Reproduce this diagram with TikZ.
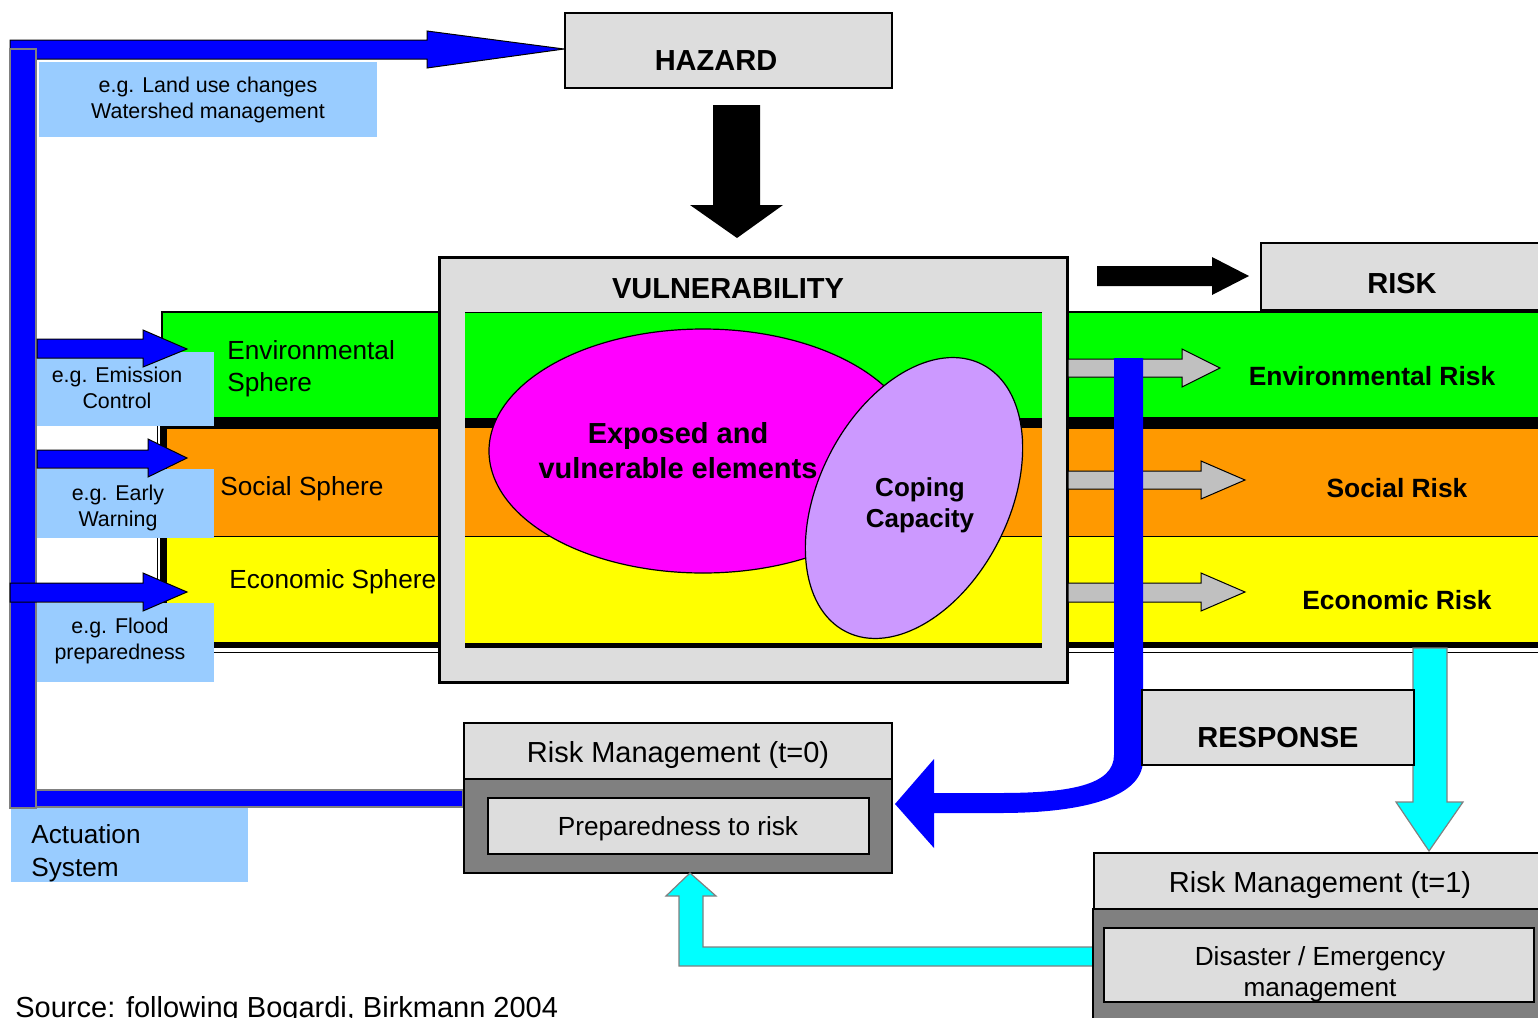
\documentclass[tikz,border=0pt]{standalone}
\usepackage{fontspec}
\setmainfont{Liberation Sans}
\usepackage{tikz}
\definecolor{boxgray}{HTML}{DDDDDD}
\definecolor{mgmtgray}{HTML}{808080}
\definecolor{envgreen}{HTML}{00FF00}
\definecolor{socorange}{HTML}{FF9900}
\definecolor{ecoyellow}{HTML}{FFFF00}
\definecolor{expmagenta}{HTML}{FF00FF}
\definecolor{copelilac}{HTML}{CC99FF}
\definecolor{notebox}{HTML}{99CCFF}
\definecolor{actblue}{HTML}{0000FF}
\definecolor{respcyan}{HTML}{00FFFF}
\definecolor{arrowgray}{HTML}{C0C0C0}
\newcommand{\notefont}{\fontsize{10.7pt}{13pt}\selectfont}
\newcommand{\spherefont}{\fontsize{13.1pt}{16pt}\selectfont}
\newcommand{\titlefont}{\fontsize{14.5pt}{17.5pt}\selectfont}
\newcommand{\riskfont}{\fontsize{13.2pt}{16pt}\selectfont}

\begin{document}
\begin{tikzpicture}[x=0.5pt, y=-0.5pt,
		txt/.style={inner sep=0pt, align=center, anchor=base},
		note/.style={txt, font=\notefont},
		sphere/.style={txt, align=left, anchor=base west, font=\spherefont},
		title/.style={txt, font=\titlefont\bfseries},
		riskname/.style={txt, font=\riskfont\bfseries},
		panel/.style={fill=boxgray, draw=black, line width=1pt},
		blueblock/.style={fill=actblue, draw=black, line width=0.5pt},
		grayblock/.style={fill=arrowgray, draw=black, line width=0.5pt},
		cyanblock/.style={fill=respcyan, draw=gray, line width=0.6pt}]
			\useasboundingbox (0,0) rectangle (1538,1018);
			
			% Sphere bands
			\draw[line width=0.5pt] (157,425) -- (157,652) -- (1545,652);
			\fill[black] (160,418) rectangle (1545,648);
			\draw[fill=envgreen, line width=0.6pt] (162,312) rectangle (1545,418);
			\fill[socorange] (167,429) rectangle (1545,536);
			\fill[ecoyellow] (167,537) rectangle (1545,642);
			\draw[line width=0.6pt] (167,536.5) -- (1545,536.5);
			
			% Vulnerability box
			\draw[panel, line width=1.5pt] (439,257) rectangle (1067,682);
			\fill[envgreen] (465,312) rectangle (1042,418);
			\draw[line width=0.5pt] (465,312) -- (1042,312);
			\fill[black] (465,418) rectangle (1042,428);
			\fill[socorange] (465,428) rectangle (1042,536);
			\fill[ecoyellow] (465,537) rectangle (1042,643);
			\draw[line width=0.6pt] (465,536.5) -- (1042,536.5);
			\fill[black] (465,643) rectangle (1042,648);
			\node[title] (vulntitle) at (728,298) {VULNERABILITY};
			
			% Exposed elements and coping capacity
			\draw[fill=expmagenta, line width=0.6pt] (703,451) ellipse (107pt and 61pt);
			\draw[fill=copelilac, line width=0.6pt, rotate around={63:(914,498)}] (914,498) ellipse (75pt and 47.5pt);
			\node[txt, font=\titlefont\bfseries] (exposed) at (678,478) {Exposed and\\vulnerable elements};
			\node[txt, font={\fontsize{13pt}{15.5pt}\selectfont\bfseries}] (coping) at (920,527) {Coping\\Capacity};
			
			% Sphere labels
			\node[sphere] (envsphere) at (227,391) {Environmental\\Sphere};
			\node[sphere] (socsphere) at (220,495) {Social Sphere};
			\node[sphere] (ecosphere) at (229,588) {Economic Sphere};
			
			% Example boxes
			\fill[notebox] (39,62) rectangle (377,137);
			\fill[notebox] (37,352) rectangle (214,426);
			\fill[notebox] (37,469) rectangle (214,538);
			\fill[notebox] (37,603) rectangle (214,682);
			\fill[notebox] (11,808) rectangle (248,882);
			\node[note] (landuse) at (208,118) {e.g. Land use changes\\Watershed management};
			\node[note] (emission) at (117,408) {e.g. Emission\\Control};
			\node[note] (warning) at (118,526) {e.g. Early\\Warning};
			\node[note] (flood) at (120,659) {e.g. Flood\\preparedness};
			\node[txt, align=left, anchor=base west, font={\fontsize{13.1pt}{16.5pt}\selectfont}] (actuation) at (31,876) {Actuation\\System};
			
			% Actuation system (blue)
			\draw[blueblock] (10,40) -- (427,40) -- (427,31) -- (564,49) -- (427,68) -- (427,59) -- (10,59) -- cycle;
			\draw[fill=actblue, draw=gray, line width=0.6pt] (36,790) rectangle (463,807);
			\draw[fill=actblue, draw=gray, line width=0.6pt] (10,49) rectangle (36,808);
			\draw[blueblock] (37,339) -- (143,339) -- (143,330) -- (187,349) -- (143,367) -- (143,358) -- (37,358) -- cycle;
			\draw[blueblock] (37,450) -- (148,450) -- (148,439) -- (187,458) -- (148,477) -- (148,468) -- (37,468) -- cycle;
			\draw[blueblock] (10,583) -- (143,583) -- (143,573) -- (187,592) -- (143,611) -- (143,602) -- (10,602) -- cycle;
			
			% Hazard
			\draw[panel] (565,13) rectangle (892,88);
			\node[title] (hazard) at (716,70) {HAZARD};
			\fill[black] (713,105) -- (760,105) -- (760,205) -- (783,205) -- (737,238) -- (690,205) -- (713,205) -- cycle;
			
			% Risk
			\draw[panel] (1261,243) rectangle (1545,310);
			\node[title] (risk) at (1402,293) {RISK};
			\fill[black] (1097,266) -- (1212,266) -- (1212,257) -- (1249,276) -- (1212,295) -- (1212,286) -- (1097,286) -- cycle;
			\draw[grayblock] (1068,359) -- (1182,359) -- (1182,349) -- (1220,368) -- (1182,387) -- (1182,377) -- (1068,377) -- cycle;
			\draw[grayblock] (1068,471) -- (1201,471) -- (1201,461) -- (1245,480) -- (1201,499) -- (1201,489) -- (1068,489) -- cycle;
			\draw[grayblock] (1068,583) -- (1201,583) -- (1201,573) -- (1245,592) -- (1201,611) -- (1201,602) -- (1068,602) -- cycle;
			\node[riskname] (envrisk) at (1372,385) {Environmental Risk};
			\node[riskname] (socrisk) at (1397,497) {Social Risk};
			\node[riskname] (ecorisk) at (1397,609) {Economic Risk};
			
			% Response (blue, back to t=0)
			\fill[actblue] (1114,358) -- (1143,358) -- (1143,760) .. controls (1143,800) and (1075,813) .. (1000,813) -- (934,813) -- (934,848) -- (895,804) -- (934,759) -- (934,793) -- (1000,793) .. controls (1070,793) and (1114,785) .. (1114,755) -- cycle;
			\draw[cyanblock] (1413,648) -- (1447,648) -- (1447,802) -- (1463,802) -- (1429,851) -- (1396,802) -- (1413,802) -- cycle;
			\draw[panel] (1142,690) rectangle (1414,765);
			\node[title] (response) at (1278,747) {RESPONSE};
			
			% Risk Management (t=0)
			\draw[panel] (464,723) rectangle (892,779);
			\draw[fill=mgmtgray, line width=1pt] (464,779) rectangle (892,873);
			\draw[panel] (488,798) rectangle (869,854);
			\node[txt, font=\titlefont] (rmzero) at (678,762) {Risk Management (t=0)};
			\node[txt, font=\spherefont] (prepared) at (678,835) {Preparedness to risk};
			
			% Risk Management (t=1)
			\draw[cyanblock] (1093,947) -- (703,947) -- (703,896) -- (716,896) -- (690,873) -- (666,896) -- (679,896) -- (679,966) -- (1093,966) -- cycle;
			\draw[panel] (1094,853) rectangle (1545,909);
			\draw[fill=mgmtgray, line width=1pt] (1093,909) rectangle (1545,1025);
			\draw[panel] (1104,928) rectangle (1534,1002);
			\node[txt, font=\titlefont] (rmone) at (1320,892) {Risk Management (t=1)};
			\node[txt, font={\fontsize{13.1pt}{15.5pt}\selectfont}] (disaster) at (1320,996) {Disaster / Emergency\\management};
			
			\node[txt, anchor=base west, font=\titlefont] (source) at (15,1017) {Source: following Bogardi, Birkmann 2004};
		\end{tikzpicture}
\end{document}
